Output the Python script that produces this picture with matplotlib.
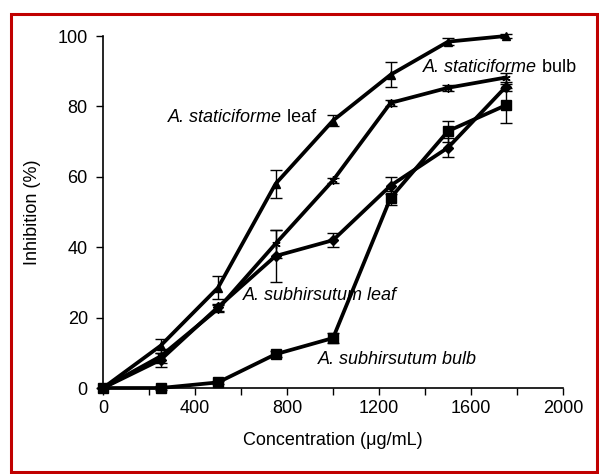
import matplotlib.pyplot as plt
from matplotlib.patches import Rectangle

plt.rcParams['font.family'] = ['Liberation Sans', 'DejaVu Sans']

conc = [0, 250, 500, 750, 1000, 1250, 1500, 1750]

stat_leaf = [0, 12, 28.5, 58, 76, 89, 98.4, 100]
stat_leaf_err = [0, 2, 3.2, 4, 1.5, 3.6, 1, 0.5]

stat_bulb = [0, 9, 22.5, 41, 59, 81, 85.3, 88.2]
stat_bulb_err = [0, 2, 1, 4, 0.8, 0.8, 0.8, 1.2]

subh_leaf = [0, 8, 23, 37.5, 42, 57.5, 68.3, 85.5]
subh_leaf_err = [0, 2, 1, 7.5, 2, 2.5, 2.7, 1]

subh_bulb = [0, 0, 1.6, 9.6, 14.2, 54, 73, 80.3]
subh_bulb_err = [0, 0.5, 0.5, 0.8, 1.5, 2, 3, 5]

xticks = list(range(0, 2001, 200))
yticks = [0, 20, 40, 60, 80, 100]


def label(ax, x, y, italic, plain=''):
    t = ax.text(x, y, italic, fontsize=13, style='italic', va='baseline')
    if plain:
        ax.annotate(plain, xy=(1, 0), xycoords=t, fontsize=13,
                    va='bottom', ha='left')
    return t


def main():
    fig = plt.figure(figsize=(5.99, 4.74), dpi=100)
    ax = fig.add_axes([0.172, 0.1814, 0.768, 0.7426])

    series = [
        (stat_leaf, stat_leaf_err, '^', 6),
        (stat_bulb, stat_bulb_err, (6, 2, 0), 6),
        (subh_leaf, subh_leaf_err, 'D', 5.5),
        (subh_bulb, subh_bulb_err, 's', 6.5),
    ]
    for y, err, m, ms in series:
        ax.errorbar(conc, y, yerr=err, color='black', lw=2.7, marker=m,
                    markersize=ms, ecolor='black', elinewidth=1.0,
                    capsize=4, capthick=1.0, clip_on=False)

    ax.set_xlim(0, 2000)
    ax.set_ylim(0, 100)
    ax.set_xticks(xticks)
    ax.set_xticklabels([str(t) if t % 400 == 0 else '' for t in xticks])
    ax.set_yticks(yticks)
    ax.tick_params(direction='out', length=5, width=1, labelsize=13)
    ax.tick_params(axis='y', pad=6)
    ax.spines['top'].set_visible(False)
    ax.spines['right'].set_visible(False)
    ax.spines['left'].set_linewidth(1.2)
    ax.spines['bottom'].set_linewidth(1.2)

    ax.set_xlabel('Concentration (\u03bcg/mL)', fontsize=13, labelpad=11)
    ax.set_ylabel('Inhibition (%)', fontsize=13, labelpad=12)

    label(ax, 283, 75.5, 'A. staticiforme', ' leaf')
    label(ax, 1391, 89.7, 'A. staticiforme', ' bulb')
    label(ax, 609, 24.9, 'A. subhirsutum leaf')
    label(ax, 935, 6.7, 'A. subhirsutum bulb')

    fig.patches.append(Rectangle((10.5 / 599, 1 - 471.5 / 474), 586 / 599, 458 / 474,
                                 transform=fig.transFigure, fill=False,
                                 edgecolor='#c00000', lw=2.2))

    fig.savefig('out.png', dpi=100)


if __name__ == "__main__":
    main()
